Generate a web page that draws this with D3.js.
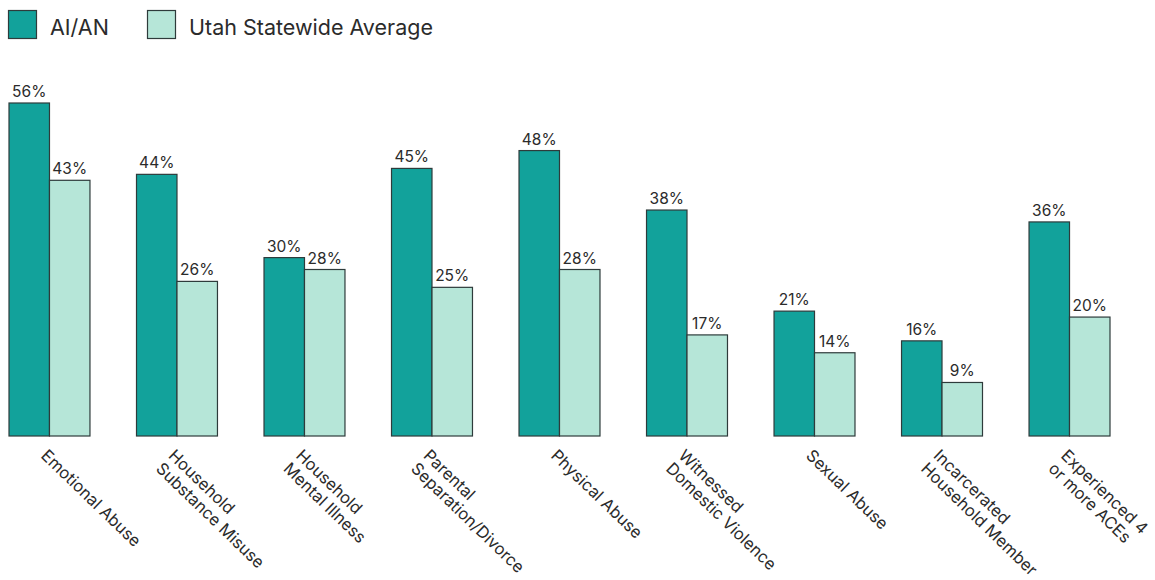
<!DOCTYPE html>
<html>
<head>
<meta charset="utf-8">
<script src="https://cdn.jsdelivr.net/npm/d3@7"></script>
<style>
  html, body { margin: 0; padding: 0; background: #ffffff; }
  svg { display: block; font-family: Inter, "Noto Sans", sans-serif; }
</style>
</head>
<body>
<svg id="chart" width="1155" height="580"></svg>
<script>
// ACE prevalence by category: AI/AN vs Utah statewide average (%)
const categories = [
  ["Emotional Abuse"],
  ["Household", "Substance Misuse"],
  ["Household", "Mental Illness"],
  ["Parental", "Separation/Divorce"],
  ["Physical Abuse"],
  ["Witnessed", "Domestic Violence"],
  ["Sexual Abuse"],
  ["Incarcerated", "Household Member"],
  ["Experienced 4", "or more ACEs"]
];
const seriesNames = ["AI/AN", "Utah Statewide Average"];
const aian  = [56, 44, 30, 45, 48, 38, 21, 16, 36];
const utah  = [43, 26, 28, 25, 28, 17, 14, 9, 20];
const seriesColors = ["#12a29b", "#b6e6d8"];

const svg = d3.select("#chart");
const strokeColor = "#2e3b3b";

const rows = categories.map((c, i) => ({ key: c.join(" "), lines: c, values: [aian[i], utah[i]] }));

// Scales
const x0 = d3.scaleBand()
  .domain(rows.map(d => d.key))
  .range([9, 1110])
  .paddingInner(0.365)
  .paddingOuter(0);
const x1 = d3.scaleBand()
  .domain([0, 1])
  .range([0, x0.bandwidth()]);
const y = d3.scaleLinear().domain([0, 56]).range([436, 103]);

// Bars
const groups = svg.append("g").selectAll("g")
  .data(rows)
  .join("g")
  .attr("transform", d => `translate(${x0(d.key)},0)`);

groups.selectAll("rect")
  .data(d => d.values.map((v, j) => ({ v, j })))
  .join("rect")
  .attr("x", d => x1(d.j))
  .attr("y", d => y(d.v))
  .attr("width", x1.bandwidth())
  .attr("height", d => y(0) - y(d.v))
  .attr("fill", d => seriesColors[d.j])
  .attr("stroke", strokeColor)
  .attr("stroke-width", 1.2);

// Value labels
groups.selectAll("text.value")
  .data(d => d.values.map((v, j) => ({ v, j })))
  .join("text")
  .attr("class", "value")
  .attr("x", d => x1(d.j) + x1.bandwidth() / 2)
  .attr("y", d => y(d.v) - 6)
  .attr("text-anchor", "middle")
  .attr("font-size", 15.5)
  .attr("fill", "#2b2b2b")
  .text(d => d.v + "%");

// Category labels, rotated
const labels = svg.append("g").selectAll("text")
  .data(rows)
  .join("text")
  .attr("transform", d => `translate(${x0(d.key) + x0.bandwidth() / 2 - 1},448) rotate(44)`)
  .attr("font-size", 16.5)
  .attr("fill", "#2b2b2b");

labels.selectAll("tspan")
  .data(d => d.lines)
  .join("tspan")
  .attr("x", 0)
  .attr("dy", (d, i) => i === 0 ? "0.74em" : "1.1em")
  .text(d => d);

// Legend
const legend = svg.append("g");
const legendX = [8, 147];
seriesNames.forEach((name, i) => {
  legend.append("rect")
    .attr("x", legendX[i] + 0.5)
    .attr("y", 10.5)
    .attr("width", 28)
    .attr("height", 28)
    .attr("fill", seriesColors[i])
    .attr("stroke", strokeColor)
    .attr("stroke-width", 1.2);
  legend.append("text")
    .attr("x", legendX[i] + 42)
    .attr("y", 34.5)
    .attr("font-size", 21.5)
    .attr("fill", "#2b2b2b")
    .text(name);
});
</script>
</body>
</html>
